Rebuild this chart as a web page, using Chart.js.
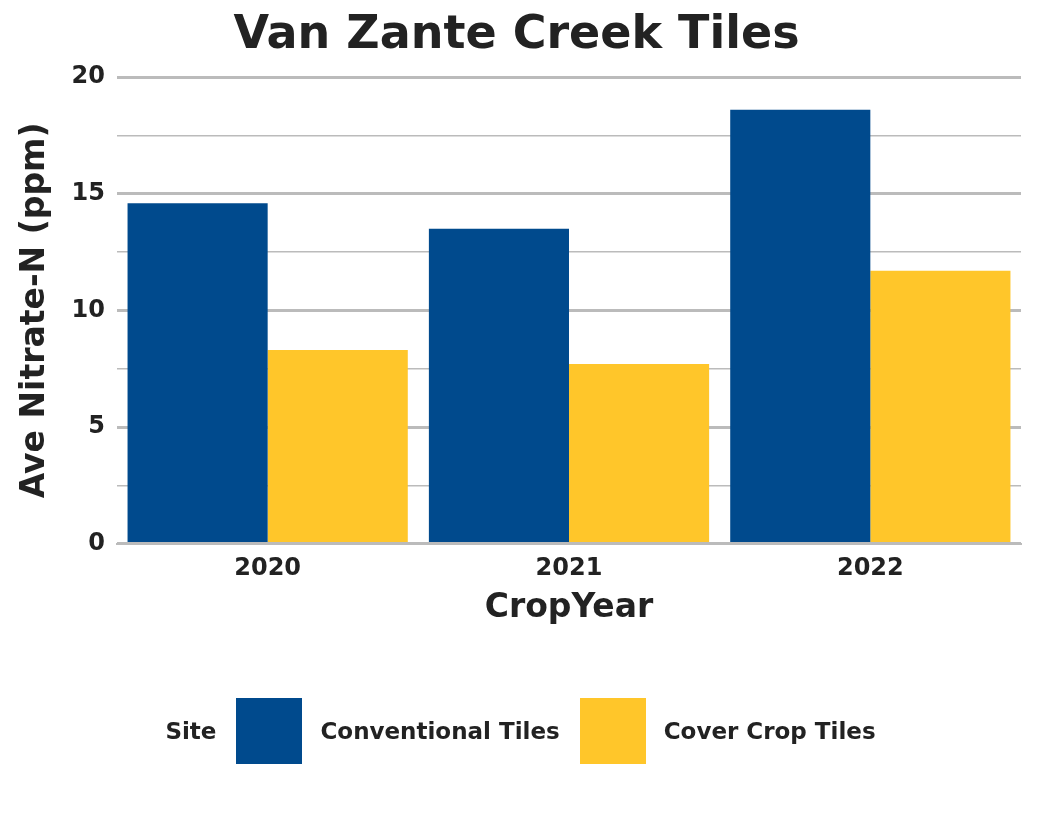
<!DOCTYPE html>
<html lang="en">
<head>
<meta charset="UTF-8">
<title>Van Zante Creek Tiles</title>
<script src="https://cdn.jsdelivr.net/npm/chart.js"></script>
<style>
  html, body { margin: 0; background: #fff; }
  #wrap { position: relative; width: 1043px; height: 813px; }
  #legend { position: absolute; left: 0; width: 1043px; top: 698px; display: flex; justify-content: center; align-items: center;
            font: bold 23px "DejaVu Sans", sans-serif; color: #222; }
  #legend .box { width: 66px; height: 66px; margin: 0 18px 0 18px; }
  #legend .txt { margin-right: 2px; }
</style>
</head>
<body>
<div id="wrap">
  <canvas id="chart" width="1043" height="813"></canvas>
  <div id="legend"></div>
</div>
<script>
const years = ['2020', '2021', '2022'];
const conventional = [14.6, 13.5, 18.6];
const coverCrop = [8.3, 7.7, 11.7];

const font = '"DejaVu Sans", sans-serif';

const chart = new Chart(document.getElementById('chart'), {
    type: 'bar',
    data: {
        labels: years,
        datasets: [
            { label: 'Conventional Tiles', data: conventional, backgroundColor: '#004a8d' },
            { label: 'Cover Crop Tiles', data: coverCrop, backgroundColor: '#ffc62a' }
        ]
    },
    options: {
        responsive: false,
        animation: false,
        barPercentage: 1,
        categoryPercentage: 0.93,
        layout: { padding: { left: 12, right: 22, top: 8, bottom: 185 } },
        plugins: {
            title: {
                display: true,
                text: 'Van Zante Creek Tiles',
                color: '#222',
                font: { family: font, size: 46, weight: 'bold' },
                padding: { top: 0, bottom: 14 }
            },
            legend: { display: false },
            tooltip: { enabled: false }
        },
        scales: {
            x: {
                grid: { display: false },
                border: { color: '#bbb', width: 2 },
                ticks: { color: '#222', font: { family: font, size: 24, weight: 'bold' } },
                title: {
                    display: true,
                    text: 'CropYear',
                    color: '#222',
                    font: { family: font, size: 33, weight: 'bold' },
                    padding: { top: 2, bottom: 0 }
                }
            },
            y: {
                min: 0,
                max: 20,
                border: { display: false },
                grid: {
                    color: '#bbb',
                    lineWidth: c => (c.tick && c.tick.value % 5 === 0) ? 3 : 1.5,
                    drawTicks: false
                },
                ticks: {
                    stepSize: 2.5,
                    padding: 12,
                    color: '#222',
                    font: { family: font, size: 24, weight: 'bold' },
                    callback: v => (v % 5 === 0 ? v : '')
                },
                title: {
                    display: true,
                    text: 'Ave Nitrate-N (ppm)',
                    color: '#222',
                    font: { family: font, size: 33, weight: 'bold' }
                }
            }
        }
    }
});

// legend built from the chart datasets, with the "Site" heading in front
const legend = document.getElementById('legend');
legend.innerHTML = '<span class="txt">Site</span>' + chart.data.datasets.map(d =>
    `<span class="box" style="background:${d.backgroundColor}"></span><span class="txt">${d.label}</span>`).join('');
</script>
</body>
</html>
